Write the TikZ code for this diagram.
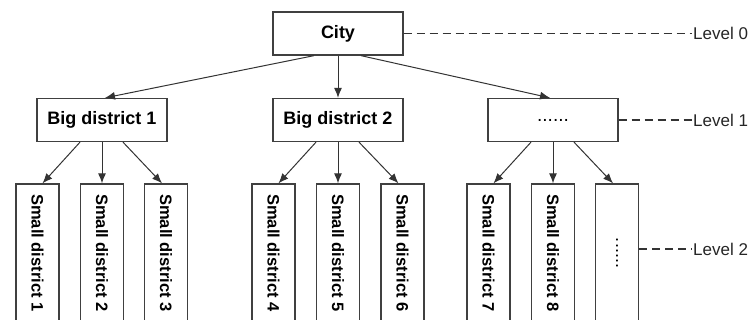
\documentclass[tikz,border=0pt]{standalone}
\usepackage{fontspec}
\setmainfont{Liberation Sans}
\usetikzlibrary{arrows.meta,calc}
\begin{document}
\begin{tikzpicture}[x=1pt,y=-1pt,
  box/.style={draw=black!75,line width=1.3pt,fill=white,inner sep=0pt},
  topbox/.style={box,minimum width=130pt,minimum height=43pt,font=\fontsize{18}{20}\selectfont\bfseries},
  smallbox/.style={box,minimum width=43pt,minimum height=138pt,font=\fontsize{16.5}{19}\selectfont\bfseries},
  link/.style={draw=black!80,line width=1pt,-{Latex[length=10pt,width=8pt]}},
  levelline/.style={draw=black!80,line width=1.1pt,dash pattern=on 8pt off 5pt},
  leveltext/.style={font=\fontsize{17}{19}\selectfont,text=black!85,anchor=west,inner sep=0pt}]
\useasboundingbox (0,0) rectangle (752,320);
\begin{scope}
\clip (0,0) rectangle (752,320);
% root and first level
\node[topbox] (city) at (338,33.5) {City};
\node[topbox] (b1) at (102,120) {Big district 1};
\node[topbox] (b2) at (338,120) {Big district 2};
\node[topbox] (b3) at (553,120) {\fontsize{19}{20}\selectfont\mdseries ......};
% second level
\foreach \i/\x in {1/37.5,2/102,3/166,4/273.5,5/338,6/402.5,7/488.5,8/553,9/617}{
  \ifnum\i=9
    \node[smallbox] (s\i) at (\x,253) {\rotatebox{-90}{\fontsize{18}{20}\selectfont\mdseries ......}};
  \else
    \node[smallbox] (s\i) at (\x,253) {\rotatebox{-90}{Small district \i}};
  \fi
}
% connectors
\draw[link] ($(city.south)+(-24,0)$) -- ($(b1.north)+(3,0)$);
\draw[link] (city.south) -- (b2.north);
\draw[link] ($(city.south)+(23,0)$) -- ($(b3.north)+(-3,0)$);
\foreach \p/\a/\b/\c in {b1/s1/s2/s3,b2/s4/s5/s6,b3/s7/s8/s9}{
  \draw[link] ($(\p.south)+(-22,0)$) -- ($(\a.north)+(5,0)$);
  \draw[link] (\p.south) -- (\b.north);
  \draw[link] ($(\p.south)+(21,0)$) -- ($(\c.north)+(-4,0)$);
}
% level markers
\coordinate (l0) at (692,33.5);
\coordinate (l1) at (692,120);
\coordinate (l2) at (692,249);
\draw[levelline] (city.east) -- (l0);
\draw[levelline] (b3.east) -- (l1);
\draw[levelline] (s9.east |- l2) -- (l2);
\node[leveltext] (t0) at ($(l0)+(1,0)$) {Level 0};
\node[leveltext] (t1) at ($(l1)+(1,0)$) {Level 1};
\node[leveltext] (t2) at ($(l2)+(1,0)$) {Level 2};
\end{scope}
\end{tikzpicture}
\end{document}
